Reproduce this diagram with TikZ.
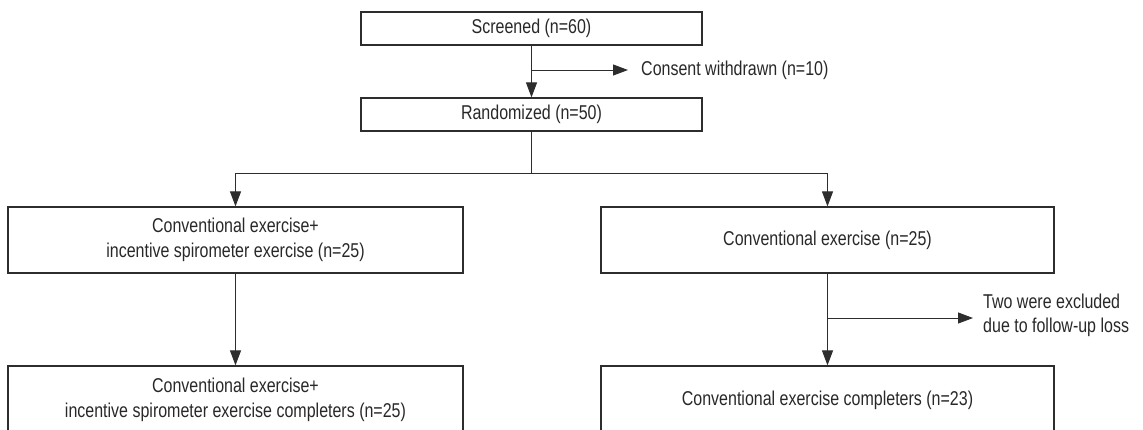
\documentclass[tikz,border=0pt]{standalone}
\usepackage{fontspec}
\setmainfont{Liberation Sans}[FakeStretch=0.8]
\usetikzlibrary{arrows.meta}
\definecolor{ink}{RGB}{40,40,40}
\definecolor{linec}{RGB}{45,45,45}
\tikzset{
  box/.style={draw=linec, line width=1.2pt, text=ink, align=center, inner sep=0pt, font=\fontsize{20}{25}\selectfont},
  lbl/.style={text=ink, align=left, inner sep=0pt, font=\fontsize{20}{24}\selectfont},
  arr/.style={draw=linec, line width=1pt, -{Triangle[length=15pt,width=11pt]}},
  ln/.style={draw=linec, line width=1pt}
}
\begin{document}
\begin{tikzpicture}[x=1pt,y=-1pt]
\useasboundingbox (0,0) rectangle (1143,429);
\clip (0,0) rectangle (1143,429);
\node[box, minimum width=341pt, minimum height=33pt] (scr) at (531.5,28.5) {Screened (n=60)};
\node[box, minimum width=341pt, minimum height=33pt] (rnd) at (531.5,114.5) {Randomized (n=50)};
\node[lbl, anchor=west] (cons) at (641,70) {Consent withdrawn (n=10)};
\coordinate (c1) at (531.5,70);
\draw[arr] (scr) -- (rnd);
\draw[arr] (c1) -- ([xshift=-13pt]cons.west);

\node[box, minimum width=455pt, minimum height=66pt] (l1) at (235.5,240) {Conventional exercise+\\incentive spirometer exercise (n=25)};
\node[box, minimum width=453pt, minimum height=66pt] (r1) at (827.5,240) {Conventional exercise (n=25)};
\coordinate (sp) at (531.5,173);
\draw[ln] (rnd.south) -- (sp);
\draw[arr] (sp) -| (l1.north);
\draw[arr] (sp) -| (r1.north);

\node[box, minimum width=455pt, minimum height=68pt] (l2) at (235.5,400) {Conventional exercise+\\incentive spirometer exercise completers (n=25)};
\node[box, minimum width=453pt, minimum height=68pt] (r2) at (827.5,400) {Conventional exercise completers (n=23)};
\draw[arr] (l1) -- (l2);
\draw[arr] (r1) -- (r2);
\node[lbl, anchor=west] (exc) at (983,315) {Two were excluded\\due to follow-up loss};
\coordinate (c2) at (827.5,318);
\draw[arr] (c2) -- ([xshift=-10pt]exc.west |- c2);
\end{tikzpicture}
\end{document}
